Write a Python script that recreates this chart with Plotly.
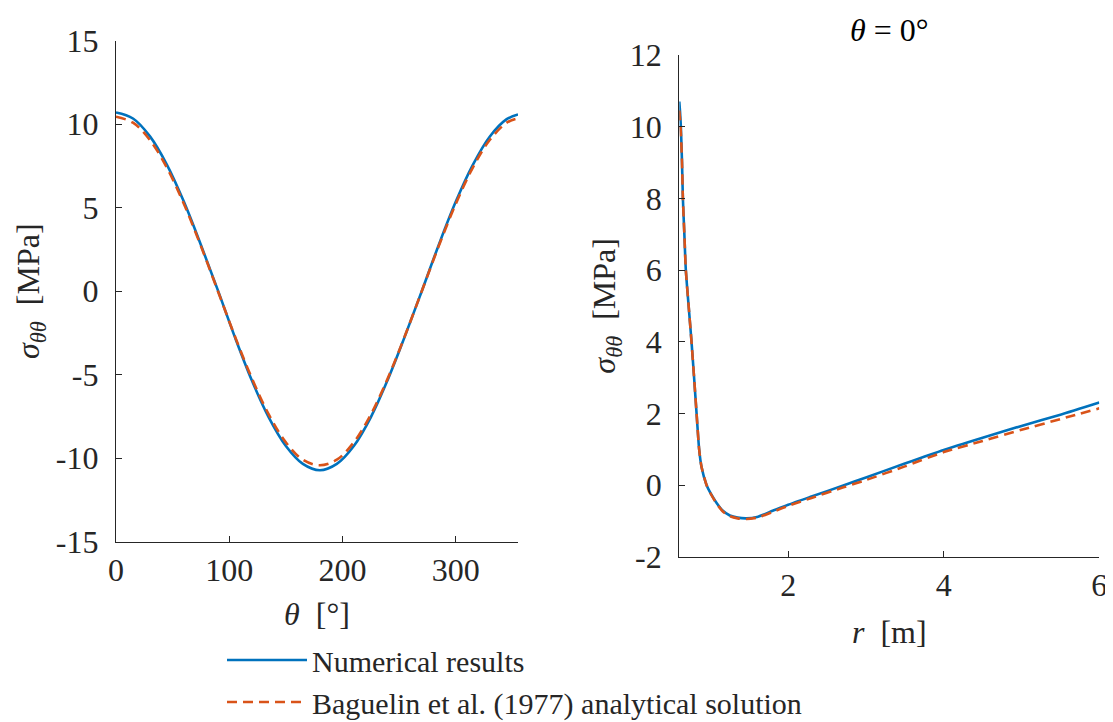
import plotly.graph_objects as go

# ---- Left panel: sigma_theta_theta vs theta ----
theta_deg = [0, 15, 30, 45, 60, 75, 90, 105, 120, 135, 150, 165, 180,
             195, 210, 225, 240, 255, 270, 285, 300, 315, 330, 345, 355]
num_theta = [10.70, 10.34, 9.27, 7.57, 5.35, 2.77, 0.05, -2.75, -5.35, -7.57, -9.27, -10.34, -10.72,
             -10.34, -9.27, -7.55, -5.30, -2.72, 0.0, 2.77, 5.35, 7.55, 9.25, 10.30, 10.58]
ana_theta = [10.45, 10.09, 9.05, 7.39, 5.22, 2.70, 0.0, -2.70, -5.22, -7.39, -9.05, -10.09, -10.42,
             -10.09, -9.05, -7.39, -5.22, -2.70, 0.0, 2.70, 5.22, 7.39, 9.05, 10.09, 10.35]

# ---- Right panel: sigma_theta_theta vs r at theta = 0 ----
r_m = [0.60, 0.61, 0.62, 0.635, 0.646, 0.665, 0.684, 0.72, 0.757, 0.79, 0.822, 0.855, 0.886,
       0.95, 1.00, 1.08, 1.16, 1.25, 1.35, 1.465, 1.6, 1.8, 2.0, 2.3, 2.7, 3.0, 3.5, 4.0, 4.5,
       5.0, 5.5, 6.0]
num_r = [10.70, 10.40, 10.00, 9.00, 8.00, 7.00, 6.00, 5.00, 4.00, 3.00, 2.00, 1.00, 0.50,
         0.00, -0.22, -0.50, -0.72, -0.85, -0.91, -0.93, -0.89, -0.72, -0.55, -0.32, -0.02, 0.21, 0.60,
         0.98, 1.32, 1.65, 1.96, 2.30]
ana_r = [10.45, 10.20, 9.85, 9.00, 8.00, 7.00, 6.00, 5.00, 4.00, 3.00, 2.00, 1.00, 0.50,
         0.00, -0.23, -0.52, -0.74, -0.87, -0.93, -0.95, -0.91, -0.75, -0.58, -0.36, -0.07, 0.14, 0.52,
         0.92, 1.23, 1.54, 1.84, 2.14]

# ---- tick labels ----
left_xticks = [0, 100, 200, 300]
left_xticklabels = ["0", "100", "200", "300"]
left_yticks = [-15, -10, -5, 0, 5, 10, 15]
left_yticklabels = ["-15", "-10", "-5", "0", "5", "10", "15"]
right_xticks = [2, 4, 6]
right_xticklabels = ["2", "4", "6"]
right_yticks = [-2, 0, 2, 4, 6, 8, 10, 12]
right_yticklabels = ["-2", "0", "2", "4", "6", "8", "10", "12"]

BLUE = "#0072BD"
ORANGE = "#D95319"
TXT = "#262626"
FONT = "Liberation Serif"
FS = 32

fig = go.Figure()
fig.add_trace(go.Scatter(x=theta_deg, y=num_theta, mode="lines", name="Numerical results",
                         line=dict(color=BLUE, width=2.6, shape="spline"), legendgroup="num",
                         xaxis="x", yaxis="y"))
fig.add_trace(go.Scatter(x=theta_deg, y=ana_theta, mode="lines",
                         name="Baguelin et al. (1977) analytical solution",
                         line=dict(color=ORANGE, width=2.6, dash="10px,6px", shape="spline"),
                         legendgroup="ana", xaxis="x", yaxis="y"))
fig.add_trace(go.Scatter(x=r_m, y=num_r, mode="lines", name="Numerical results", showlegend=False,
                         line=dict(color=BLUE, width=2.6, shape="spline", smoothing=0.6),
                         legendgroup="num", xaxis="x2", yaxis="y2"))
fig.add_trace(go.Scatter(x=r_m, y=ana_r, mode="lines", showlegend=False,
                         name="Baguelin et al. (1977) analytical solution",
                         line=dict(color=ORANGE, width=2.6, dash="10px,6px", shape="spline",
                                   smoothing=0.6),
                         legendgroup="ana", xaxis="x2", yaxis="y2"))

# page body has an 8px margin -> figure is 8px smaller than the window
W, H = 1105, 714
axis_common = dict(showline=True, linecolor=TXT, linewidth=1.3, ticks="inside", ticklen=6,
                   tickwidth=1.3, tickcolor=TXT, showgrid=False, zeroline=False, mirror=False,
                   automargin=False, tickfont=dict(family=FONT, size=FS, color=TXT))

sig_title = "<i>σ</i><sub><i>θθ</i></sub>\u00a0\u00a0[MPa]"

fig.update_layout(
    width=W, height=H,
    margin=dict(l=0, r=0, t=0, b=0, autoexpand=False),
    paper_bgcolor="white", plot_bgcolor="white",
    font=dict(family=FONT, size=FS, color=TXT),
    xaxis=dict(domain=[108 / W, 510 / W], range=[0, 355], tickvals=left_xticks,
               ticktext=left_xticklabels, anchor="y", ticklabelstandoff=0,
               title=dict(text="<i>θ</i>\u00a0\u00a0[°]", font=dict(family=FONT, size=FS, color=TXT),
                          standoff=15),
               **axis_common),
    yaxis=dict(domain=[1 - 533.7 / H, 1 - 32.7 / H], range=[-15, 15], tickvals=left_yticks,
               ticktext=left_yticklabels, anchor="x", ticklabelstandoff=10,
               title=dict(text=sig_title, font=dict(family=FONT, size=FS, color=TXT), standoff=6),
               **axis_common),
    xaxis2=dict(domain=[671.3 / W, 1091.3 / W], range=[0.6, 6], tickvals=right_xticks,
                ticktext=right_xticklabels, anchor="y2", ticklabelstandoff=0,
                title=dict(text="<i>r</i>\u00a0\u00a0[m]", font=dict(family=FONT, size=FS, color=TXT),
                           standoff=18),
                **axis_common),
    yaxis2=dict(domain=[1 - 548.7 / H, 1 - 47 / H], range=[-2, 12], tickvals=right_yticks,
                ticktext=right_yticklabels, anchor="x2", ticklabelstandoff=10,
                title=dict(text=sig_title, font=dict(family=FONT, size=FS, color=TXT), standoff=4),
                **axis_common),
    showlegend=True,
    legend=dict(x=214 / W, y=1 - 626 / H, xanchor="left", yanchor="top",
                bgcolor="rgba(0,0,0,0)", borderwidth=0, itemwidth=80,
                font=dict(family=FONT, size=30, color=TXT), tracegroupgap=0),
    annotations=[dict(text="<i>θ</i> = 0°", x=(671.3 + 1091.3) / 2 / W, y=1 - 22 / H,
                      xref="paper", yref="paper", showarrow=False, xanchor="center",
                      yanchor="middle", font=dict(family=FONT, size=FS, color="black"))],
)

fig.write_html("out.html")
